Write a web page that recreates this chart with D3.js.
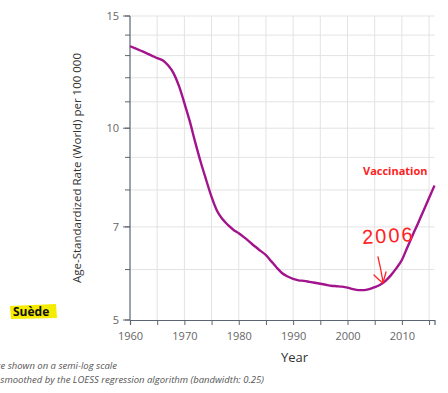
<!DOCTYPE html>
<html>
<head>
<meta charset="utf-8">
<style>
  body { margin: 0; background: #fff; }
  svg { display: block; font-family: "Open Sans", sans-serif; }
</style>
</head>
<body>
<div id="chart-area"></div>
<script src="https://d3js.org/d3.v7.min.js"></script>
<script>
// one value per year
var years = d3.range(1960, 2017);
var rates = [
  13.45, 13.34, 13.23, 13.12, 13.0, 12.88, 12.78, 12.55, 12.2, 11.65,
  10.95, 10.25, 9.5, 8.85, 8.3, 7.8, 7.42, 7.2, 7.05, 6.93,
  6.84, 6.74, 6.63, 6.52, 6.42, 6.32, 6.18, 6.04, 5.92, 5.85,
  5.8, 5.77, 5.76, 5.74, 5.72, 5.7, 5.68, 5.66, 5.65, 5.64,
  5.62, 5.59, 5.57, 5.57, 5.59, 5.63, 5.68, 5.76, 5.88, 6.03,
  6.21, 6.5, 6.8, 7.1, 7.43, 7.77, 8.13
];
var yMajor = [5, 7, 10, 15];
var yGrid = d3.range(5, 16);
var xGrid = d3.range(1960, 2016, 5);
var xLabels = [1960, 1970, 1980, 1990, 2000, 2010];
var notes = [
  "Rates are shown on a semi-log scale",
  "Rates are smoothed by the LOESS regression algorithm (bandwidth: 0.25)"
];

var width = 448, height = 393;
var svg = d3.select("#chart-area").append("svg")
    .attr("width", width).attr("height", height);

var x = d3.scaleLinear().domain([1960, 2016]).range([130, 434.5]);
var y = d3.scaleLog().domain([5, 15]).range([320, 16]);

// grid
svg.append("g").selectAll("line").data(yGrid.filter(d => d > 5)).join("line")
    .attr("x1", 130).attr("x2", 434.5)
    .attr("y1", d => y(d)).attr("y2", d => y(d))
    .attr("stroke", "#e3e3e3").attr("stroke-width", 1);
svg.append("g").selectAll("line").data(xGrid.filter(d => d > 1960)).join("line")
    .attr("x1", d => x(d)).attr("x2", d => x(d))
    .attr("y1", 16).attr("y2", 320)
    .attr("stroke", "#e3e3e3").attr("stroke-width", 1);

// y axis: minor ticks then major ones with labels
var yAxisG = svg.append("g").attr("transform", "translate(130,0)");
yAxisG.selectAll("line.minor").data(yGrid).join("line")
    .attr("class", "minor")
    .attr("x1", -5).attr("x2", 0)
    .attr("y1", d => y(d)).attr("y2", d => y(d))
    .attr("stroke", "#5b6573");
yAxisG.append("line").attr("x1", 0).attr("x2", 0).attr("y1", 16).attr("y2", 320)
    .attr("stroke", "#5b6573").attr("stroke-width", 1.2);
yAxisG.selectAll("line.major").data(yMajor).join("line")
    .attr("class", "major")
    .attr("x1", -7).attr("x2", 0)
    .attr("y1", d => y(d)).attr("y2", d => y(d))
    .attr("stroke", "#5b6573");
yAxisG.selectAll("text").data(yMajor).join("text")
    .attr("x", -11).attr("y", d => y(d)).attr("dy", "0.35em")
    .attr("text-anchor", "end")
    .attr("font-size", 11).attr("fill", "#666")
    .text(d => d);

// x axis
var xAxis = d3.axisBottom(x).tickValues(xGrid).tickSize(5)
    .tickFormat(d => xLabels.includes(d) ? d : "");
var xAxisG = svg.append("g").attr("transform", "translate(0,320)").call(xAxis);
xAxisG.select(".domain").attr("stroke", "#5b6573").attr("stroke-width", 1.2);
xAxisG.selectAll(".tick line").attr("stroke", "#5b6573");
xAxisG.selectAll(".tick text")
    .attr("font-family", "Open Sans, sans-serif")
    .attr("font-size", 11).attr("fill", "#666").attr("dy", "1.1em");

// axis titles
svg.append("text")
    .attr("transform", "translate(81,168) rotate(-90)")
    .attr("text-anchor", "middle")
    .attr("font-size", 11.5).attr("fill", "#333")
    .text("Age-Standardized Rate (World) per 100 000");
svg.append("text")
    .attr("x", 281).attr("y", 362)
    .attr("font-size", 13).attr("fill", "#333")
    .text("Year");

// the curve
var line = d3.line()
    .x((d, i) => x(years[i]))
    .y(d => y(d))
    .curve(d3.curveMonotoneX);
svg.append("path")
    .datum(rates)
    .attr("d", line)
    .attr("fill", "none")
    .attr("stroke", "#a2148c")
    .attr("stroke-width", 2.4);

// notes, cut at the left edge like in the screenshot
svg.selectAll("text.note").data(notes).join("text")
    .attr("class", "note")
    .attr("x", (d, i) => i == 0 ? 117 : 264)
    .attr("y", (d, i) => 369 + i * 14)
    .attr("text-anchor", "end")
    .attr("font-size", 9.5).attr("font-style", "italic").attr("fill", "#555")
    .text(d => d);

// annotations
svg.append("path")
    .attr("d", "M10,306 L56,304 L57,318 L11,319 Z")
    .attr("fill", "#f5ec00");
svg.append("text")
    .attr("x", 13).attr("y", 316)
    .attr("font-size", 12).attr("font-weight", "bold").attr("fill", "#111")
    .text("Suède");

svg.append("text")
    .attr("x", 363).attr("y", 175)
    .attr("font-size", 11).attr("font-weight", "bold").attr("fill", "#f22")
    .text("Vaccination");

svg.append("text")
    .attr("x", 362).attr("y", 243)
    .attr("font-family", "Liberation Sans Narrow, Liberation Sans, sans-serif")
    .attr("font-size", 20).attr("letter-spacing", 2).attr("fill", "#f22")
    .attr("transform", "rotate(-3,380,235)")
    .text("2006");

svg.append("path")
    .attr("d", "M378,257 C380,266 382,274 383,283 M374,275 C377,278 380,281 383,283 L386,272")
    .attr("fill", "none").attr("stroke", "#f22").attr("stroke-width", 1.3)
    .attr("stroke-linecap", "round");
</script>
</body>
</html>
